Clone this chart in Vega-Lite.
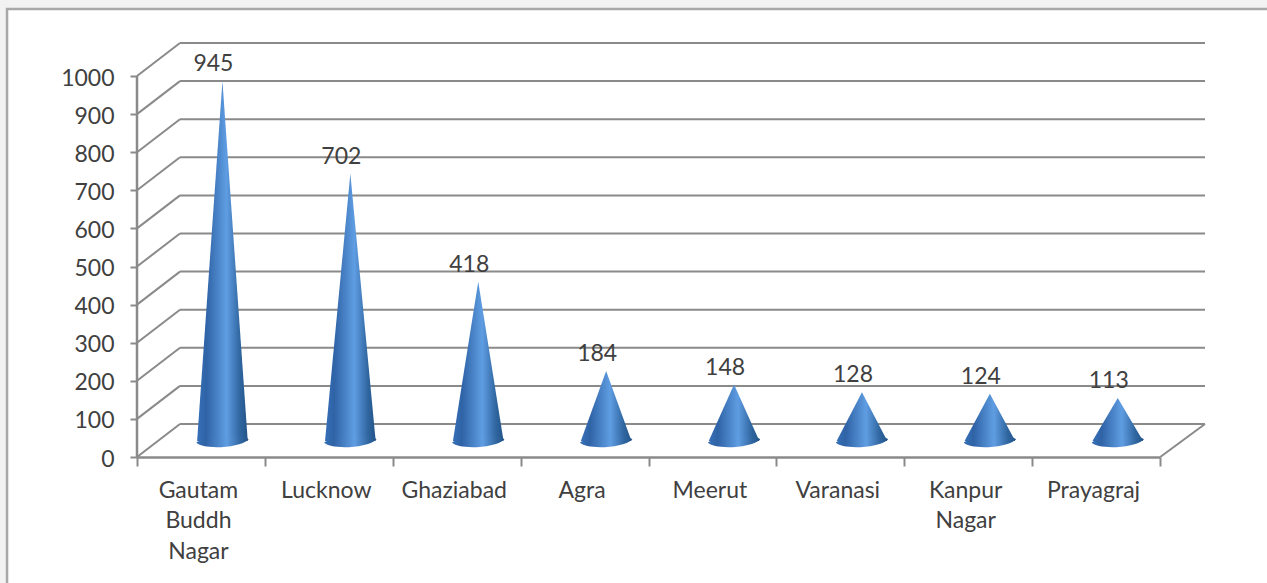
{
  "$schema": "https://vega.github.io/schema/vega-lite/v6.json",
  "width": 1068,
  "height": 413,
  "autosize": "none",
  "padding": {"left": 137, "top": 44, "right": 62, "bottom": 126},
  "background": "#f2f2f2",
  "view": {"stroke": null},
  "config": {
    "font": "Lato",
    "axis": {"labelFont": "Lato", "labelFontSize": 23, "labelColor": "#404040", "tickColor": "#8a8a8a", "tickWidth": 2, "domainColor": "#8a8a8a", "domainWidth": 2.5, "grid": false, "title": null}
  },
  "datasets": {
    "cities": [
      {"city": "Gautam Buddh Nagar", "rank": 0, "value": 945},
      {"city": "Lucknow", "rank": 1, "value": 702},
      {"city": "Ghaziabad", "rank": 2, "value": 418},
      {"city": "Agra", "rank": 3, "value": 184},
      {"city": "Meerut", "rank": 4, "value": 148},
      {"city": "Varanasi", "rank": 5, "value": 128},
      {"city": "Kanpur Nagar", "rank": 6, "value": 124},
      {"city": "Prayagraj", "rank": 7, "value": 113}
    ],
    "levels": [
      {"level": 0}, {"level": 100}, {"level": 200}, {"level": 300}, {"level": 400}, {"level": 500},
      {"level": 600}, {"level": 700}, {"level": 800}, {"level": 900}, {"level": 1000}
    ]
  },
  "resolve": {"scale": {"x": "independent"}, "axis": {"x": "independent"}},
  "layer": [
    {
      "layer": [
        {
          "description": "Chart frame",
          "data": {"values": [{}]},
          "mark": {"type": "rect", "fill": "#ffffff", "stroke": "#a8a8a8", "strokeWidth": 2.5},
          "encoding": {
            "x": {"datum": -1.016, "type": "quantitative", "scale": {"domain": [0, 8.35], "nice": false, "zero": false}, "axis": null},
            "x2": {"datum": 9.5},
            "y": {"datum": 1176, "type": "quantitative", "scale": {"domain": [0, 1084], "nice": false}, "axis": {"values": [0, 100, 200, 300, 400, 500, 600, 700, 800, 900, 1000], "format": "d", "domain": false, "tickSize": 7, "labelPadding": 16, "labelOffset": 2, "orient": "left", "zindex": 1}},
            "y2": {"datum": -500}
          }
        },
        {
          "description": "Back wall gridlines",
          "data": {"name": "levels"},
          "transform": [{"calculate": "datum.level + 86.6", "as": "back"}],
          "mark": {"type": "rule", "color": "#8a8a8a", "strokeWidth": 2},
          "encoding": {
            "x": {"datum": 0.336, "type": "quantitative"},
            "x2": {"datum": 8.35},
            "y": {"field": "back", "type": "quantitative"}
          }
        },
        {
          "description": "Side wall gridlines",
          "data": {"name": "levels"},
          "transform": [{"calculate": "datum.level + 86.6", "as": "back"}],
          "mark": {"type": "rule", "color": "#8a8a8a", "strokeWidth": 2},
          "encoding": {
            "x": {"datum": 0, "type": "quantitative"},
            "x2": {"datum": 0.336},
            "y": {"field": "level", "type": "quantitative"},
            "y2": {"field": "back"}
          }
        },
        {
          "description": "Floor edge on the right",
          "data": {"values": [{"from": 0, "to": 86.6}]},
          "mark": {"type": "rule", "color": "#8a8a8a", "strokeWidth": 2},
          "encoding": {
            "x": {"datum": 8, "type": "quantitative"},
            "x2": {"datum": 8.35},
            "y": {"field": "from", "type": "quantitative"},
            "y2": {"field": "to"}
          }
        },
        {
          "description": "Value axis line",
          "data": {"values": [{"from": 0, "to": 1000}]},
          "mark": {"type": "rule", "color": "#8a8a8a", "strokeWidth": 2.5},
          "encoding": {
            "x": {"datum": 0, "type": "quantitative"},
            "y": {"field": "from", "type": "quantitative"},
            "y2": {"field": "to"}
          }
        },
        {
          "description": "Cone bodies, tapering from the floor to the value",
          "data": {"name": "cities"},
          "transform": [
            {"calculate": "0", "as": "floor"},
            {"fold": ["floor", "value"], "as": ["end", "amount"]},
            {"calculate": "datum.end === 'floor' ? 0.198 : 0", "as": "half"},
            {"calculate": "datum.rank + 0.668 - datum.half", "as": "left"},
            {"calculate": "datum.rank + 0.668 + datum.half", "as": "right"},
            {"calculate": "datum.amount + 42", "as": "height"}
          ],
          "mark": {
            "type": "area", "orient": "horizontal",
            "fill": {"x1": 0, "x2": 1, "y1": 0, "y2": 0, "gradient": "linear", "stops": [
              {"offset": 0, "color": "#3670b8"},
              {"offset": 0.18, "color": "#2f63a6"},
              {"offset": 0.58, "color": "#5f9de2"},
              {"offset": 0.85, "color": "#2f659f"},
              {"offset": 1, "color": "#235489"}
            ]}
          },
          "encoding": {
            "x": {"field": "left", "type": "quantitative"},
            "x2": {"field": "right"},
            "y": {"field": "height", "type": "quantitative"},
            "detail": {"field": "city"}
          }
        },
        {
          "description": "Cone bases, a tilted ellipse on the floor",
          "data": {"name": "cities"},
          "transform": [
            {"calculate": "datum.rank + 0.668", "as": "centre"},
            {"calculate": "42", "as": "height"}
          ],
          "mark": {
            "type": "point", "filled": true, "opacity": 1, "size": 2750,
            "shape": "M-1,0.06 C-0.8,0.32 0.6,0.3 1,-0.06 C0.8,-0.3 -0.6,-0.25 -1,0.06 Z",
            "fill": {"x1": 0, "x2": 1, "y1": 0, "y2": 0, "gradient": "linear", "stops": [
              {"offset": 0, "color": "#3670b8"},
              {"offset": 0.18, "color": "#2f63a6"},
              {"offset": 0.58, "color": "#5f9de2"},
              {"offset": 0.85, "color": "#2f659f"},
              {"offset": 1, "color": "#235489"}
            ]}
          },
          "encoding": {
            "x": {"field": "centre", "type": "quantitative"},
            "y": {"field": "height", "type": "quantitative"}
          }
        },
        {
          "description": "Value labels above the cone tips",
          "data": {"name": "cities"},
          "transform": [
            {"calculate": "datum.rank + 0.668", "as": "centre"},
            {"calculate": "datum.value + 42", "as": "height"}
          ],
          "mark": {"type": "text", "font": "Lato", "fontSize": 23, "color": "#404040", "dx": -9, "dy": -17},
          "encoding": {
            "x": {"field": "centre", "type": "quantitative"},
            "y": {"field": "height", "type": "quantitative"},
            "text": {"field": "value", "type": "quantitative"}
          }
        }
      ]
    },
    {
      "description": "Category axis along the front edge of the floor",
      "data": {"name": "cities"},
      "mark": {"type": "rule", "opacity": 0},
      "encoding": {
        "x": {
          "field": "city", "type": "nominal", "sort": null,
          "scale": {"range": [0, 1023], "paddingInner": 0, "paddingOuter": 0},
          "axis": {"orient": "bottom", "zindex": 1, "tickBand": "extent", "tickSize": 9, "labelAngle": 0, "labelPadding": 13, "labelOffset": -3, "labelLineHeight": 30.5, "labelBaseline": "top", "labelExpr": "split(datum.label, ' ')"}
        }
      }
    }
  ]
}
